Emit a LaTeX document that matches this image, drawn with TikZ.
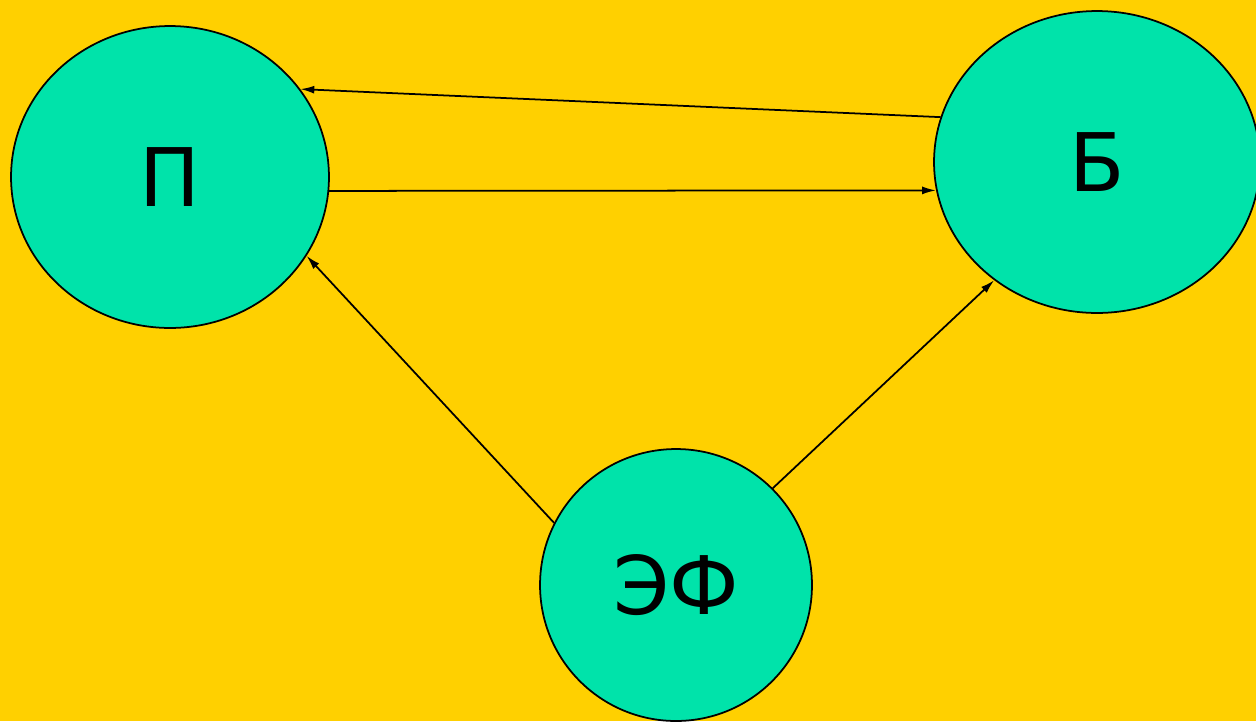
\documentclass[tikz,border=0pt]{standalone}
\usepackage{fontspec}
\setmainfont{DejaVu Sans}
\usetikzlibrary{shapes.geometric, arrows.meta}
\definecolor{bgyellow}{RGB}{255,208,0}
\definecolor{nodeteal}{RGB}{0,227,170}
\tikzset{
    blob/.style={ellipse, draw=black, line width=1pt, fill=nodeteal, inner sep=0pt,
        font=\fontsize{46}{52}\selectfont},
    link/.style={-{Latex[length=0.28cm, width=0.16cm]}, line width=1pt}
}

\begin{document}
\begin{tikzpicture}[x=0.02cm, y=-0.02cm]
    % Background
    \fill[bgyellow] (0,0) rectangle (1256,721);
    \useasboundingbox (0,0) rectangle (1256,721);
    % Nodes
    \node[blob, minimum width=6.36cm, minimum height=6.04cm] (P) at (170,177) {П};
    \node[blob, minimum width=6.52cm, minimum height=6.04cm] (B) at (1097,162) {Б};
    \node[blob, minimum width=5.44cm, minimum height=5.44cm] (EF) at (676,585) {ЭФ};
    % Arrows
    \foreach \from/\to in {B.164.7/P.34.9, P.-5/B.190, EF.153/P.-30.5, EF.45/B.229.6} {
        \draw[link] (\from) -- (\to);
    }
\end{tikzpicture}
\end{document}
